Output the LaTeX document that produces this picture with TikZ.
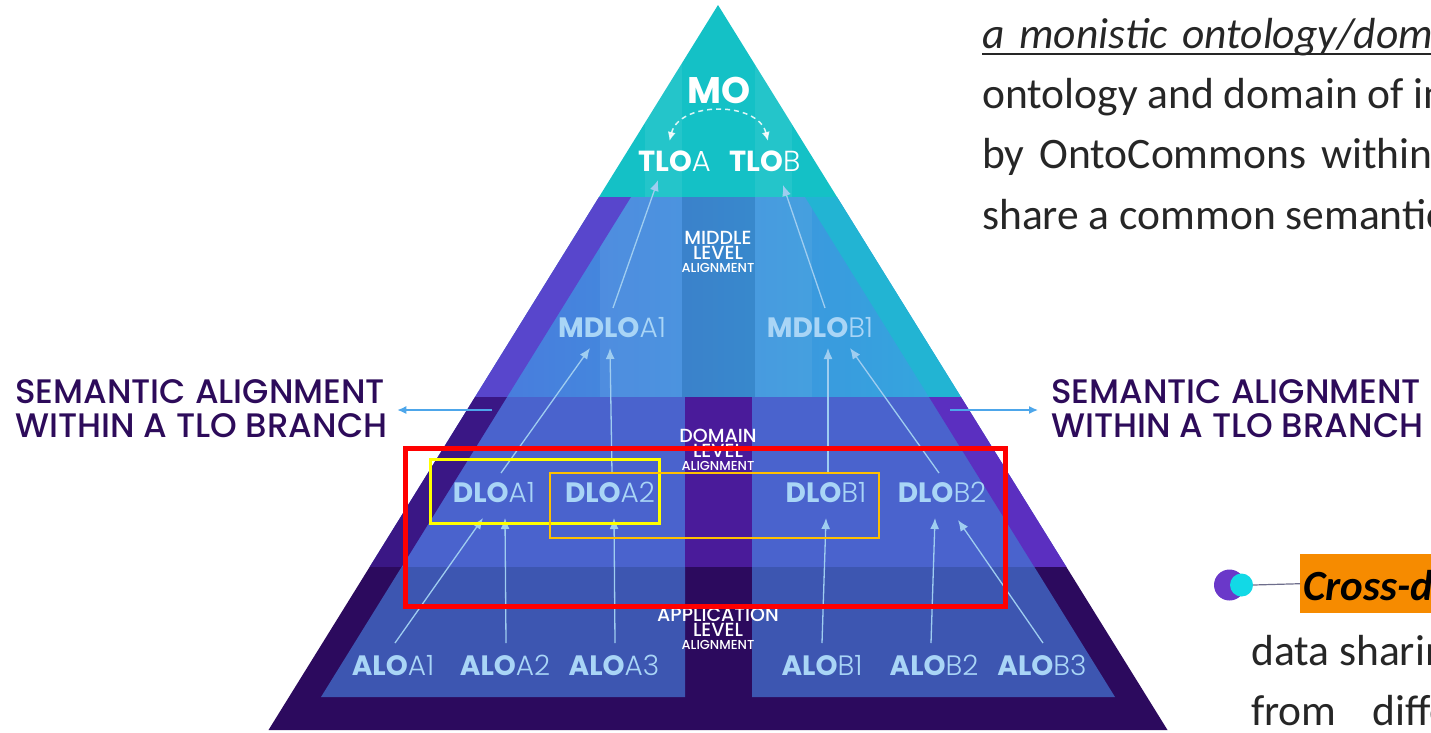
\documentclass[tikz,border=0pt]{standalone}
\usepackage{fontspec}
\setmainfont{Carlito}
\newfontfamily\pop{Poppins}
\newfontfamily\popl{Poppins Light}
\newfontfamily\popm{Poppins Medium}
\usetikzlibrary{arrows.meta}

\definecolor{tealtop}{HTML}{14C1C6}
\definecolor{midl}{HTML}{4A7ADD}
\definecolor{midr}{HTML}{33A8DE}
\definecolor{midstripL}{HTML}{5846CC}
\definecolor{midstripR}{HTML}{22B4D3}
\definecolor{dominner}{HTML}{4A63CD}
\definecolor{domstripL}{HTML}{3A1785}
\definecolor{domstripR}{HTML}{5B2FC0}
\definecolor{domcol}{HTML}{4A1B9A}
\definecolor{appframe}{HTML}{2C0A5E}
\definecolor{apppanel}{HTML}{3D56B1}
\definecolor{lbl}{HTML}{A9D5F6}
\definecolor{arrc}{HTML}{9FCDF0}
\definecolor{semc}{HTML}{2D0B5A}
\definecolor{semarrow}{HTML}{4DA6EA}
\definecolor{bodytext}{HTML}{262626}
\definecolor{hlorange}{HTML}{F68B00}
\definecolor{iconpurple}{HTML}{6A38C9}
\definecolor{iconcyan}{HTML}{12D9E6}
\definecolor{iconline}{HTML}{6E6E8C}
\definecolor{boxred}{HTML}{FF0000}
\definecolor{boxyellow}{HTML}{FFFF00}
\definecolor{boxorange}{HTML}{FFC000}

% bold prefix + light suffix, e.g. DLO + A1
\newcommand\ontolabel[2]{{\bfseries #1}{\popl #2}}

\tikzset{
  onto/.style={anchor=base, inner sep=0pt, text=lbl, font=\pop\fontsize{28}{28}\selectfont},
  toplbl/.style={anchor=base, inner sep=0pt, text=white, font=\pop\fontsize{29}{29}\selectfont},
  lvl/.style={anchor=center, inner sep=0pt, text=white, align=center, font=\popm\fontsize{19}{14.5}\selectfont},
  up/.style={draw=arrc, line width=1.3pt, -{Latex[length=11pt,width=9pt]}},
  semlbl/.style={anchor=base west, inner sep=0pt, text=semc, font=\popm\fontsize{34}{34}\selectfont},
  semarr/.style={draw=semarrow, line width=1.4pt, -{Latex[length=9pt,width=8pt]}},
  para/.style={anchor=base west, inner sep=0pt, text=bodytext, font=\fontsize{43.5}{44}\selectfont},
}
\newcommand\smallalign{{\fontsize{13}{13}\selectfont ALIGNMENT}}

\begin{document}
\begin{tikzpicture}[x=1pt, y=-1pt]
\useasboundingbox (0,0) rectangle (1431,732);
\clip (0,0) rectangle (1431,732);

% ---------- pyramid: top level ----------
\fill[tealtop] (718,5) -- (599,197) -- (837,197) -- cycle;
\begin{scope}
  \clip (718,5) -- (599,197) -- (837,197) -- cycle;
  \fill[white, opacity=0.07] (645,0) rectangle (682,197);
  \fill[white, opacity=0.07] (755,0) rectangle (792,197);
\end{scope}

% ---------- middle level ----------
\shade[left color=midl, right color=midr] (599,197) -- (837,197) -- (961,397) -- (475,397) -- cycle;
\begin{scope}
  \clip (599,197) -- (837,197) -- (961,397) -- (475,397) -- cycle;
  \fill[white, opacity=0.06] (600,197) rectangle (682,397);
  \fill[black, opacity=0.08] (682,197) rectangle (755,397);
  \fill[white, opacity=0.06] (755,197) rectangle (812,397);
\end{scope}
\fill[midstripL] (599,197) -- (631,197) -- (507,397) -- (475,397) -- cycle;
\fill[midstripR] (805,197) -- (837,197) -- (961,397) -- (929,397) -- cycle;

% ---------- domain level ----------
\fill[dominner] (475,397) -- (961,397) -- (1066.4,567) -- (369.6,567) -- cycle;
\fill[domcol] (685,397) rectangle (752,567);
\fill[domstripL] (475,397) -- (507,397) -- (401.6,567) -- (369.6,567) -- cycle;
\fill[domstripR] (929,397) -- (961,397) -- (1066.4,567) -- (1034.4,567) -- cycle;

% ---------- application level ----------
\fill[appframe] (369.6,567) -- (1066.4,567) -- (1167.5,730) -- (268.5,730) -- cycle;
\fill[apppanel] (401.6,567) -- (685,567) -- (685,697) -- (321,697) -- cycle;
\fill[apppanel] (752,567) -- (1034.4,567) -- (1115,697) -- (752,697) -- cycle;

% ---------- labels ----------
\node[toplbl, font=\pop\bfseries\fontsize{37}{37}\selectfont] (MO) at (719,103) {MO};
\node[toplbl] (TLOA) at (674.5,171) {\ontolabel{TLO}{A}};
\node[toplbl] (TLOB) at (765,171) {\ontolabel{TLO}{B}};

\node[lvl] (midlvl) at (718,252) {MIDDLE\\LEVEL\\[-1pt]\smallalign};
\node[lvl] (domlvl) at (718,450) {DOMAIN\\LEVEL\\[-1pt]\smallalign};
\node[lvl] (applvl) at (718,629) {APPLICATION\\LEVEL\\[-1pt]\smallalign};

\node[onto] (MDLOA1) at (612,337) {\ontolabel{MDLO}{A1}};
\node[onto] (MDLOB1) at (820,337) {\ontolabel{MDLO}{B1}};
\node[onto] (DLOA1) at (494,502) {\ontolabel{DLO}{A1}};
\node[onto] (DLOA2) at (610,502) {\ontolabel{DLO}{A2}};
\node[onto] (DLOB1) at (826,502) {\ontolabel{DLO}{B1}};
\node[onto] (DLOB2) at (942,502) {\ontolabel{DLO}{B2}};
\node[onto] (ALOA1) at (393,675) {\ontolabel{ALO}{A1}};
\node[onto] (ALOA2) at (505,675) {\ontolabel{ALO}{A2}};
\node[onto] (ALOA3) at (614,675) {\ontolabel{ALO}{A3}};
\node[onto] (ALOB1) at (822,675) {\ontolabel{ALO}{B1}};
\node[onto] (ALOB2) at (934,675) {\ontolabel{ALO}{B2}};
\node[onto] (ALOB3) at (1042,675) {\ontolabel{ALO}{B3}};

% ---------- alignment arrows ----------
\draw[up] ([shift={(2,-32)}]ALOA1.base) -- ([shift={(-11,16)}]DLOA1.base);
\draw[up] ([shift={(1,-32)}]ALOA2.base) -- ([shift={(11,16)}]DLOA1.base);
\draw[up] ([shift={(1,-32)}]ALOA3.base) -- ([shift={(4,16)}]DLOA2.base);
\draw[up] ([shift={(0,-32)}]ALOB1.base) -- ([shift={(0,16)}]DLOB1.base);
\draw[up] ([shift={(-3,-32)}]ALOB2.base) -- ([shift={(-7,16)}]DLOB2.base);
\draw[up] ([shift={(1,-32)}]ALOB3.base) -- ([shift={(16,18)}]DLOB2.base);
\draw[up] ([shift={(7,-29)}]DLOA1.base) -- ([shift={(-22,11)}]MDLOA1.base);
\draw[up] ([shift={(2,-29)}]DLOA2.base) -- ([shift={(-2,11)}]MDLOA1.base);
\draw[up] ([shift={(2,-29)}]DLOB1.base) -- ([shift={(8,11)}]MDLOB1.base);
\draw[up] ([shift={(-3,-29)}]DLOB2.base) -- ([shift={(30,11)}]MDLOB1.base);
\draw[up] ([shift={(1,-29)}]MDLOA1.base) -- ([shift={(-16.5,9)}]TLOA.base);
\draw[up] ([shift={(5,-29)}]MDLOB1.base) -- ([shift={(18,14)}]TLOB.base);

% dashed link between the two top-level ontologies
\draw[white, opacity=0.85, line width=1.5pt, dash pattern=on 5pt off 4pt,
      {Latex[length=9pt,width=8pt]}-{Latex[length=9pt,width=8pt]}]
  ([shift={(-5,-30)}]TLOA.base) .. controls +(10,-40) and +(-10,-40) .. ([shift={(3,-30)}]TLOB.base);

% ---------- side captions ----------
\node[semlbl] (semL1) at (15,403) {SEMANTIC ALIGNMENT};
\node[semlbl] (semL2) at (15,437) {WITHIN A TLO BRANCH};
\node[semlbl] (semR1) at (1051,403) {SEMANTIC ALIGNMENT};
\node[semlbl] (semR2) at (1051,437) {WITHIN A TLO BRANCH};
\coordinate (semLstart) at (492,410);
\coordinate (semRstart) at (950,410);
\draw[semarr, shorten >=12pt] (semLstart) -- (semLstart -| semL1.east);
\draw[semarr, shorten >=13pt] (semRstart) -- (semRstart -| semR1.west);

% ---------- body text ----------
\node[para, font=\itshape\fontsize{43.5}{44}\selectfont] (p1) at (982,48) {a\hspace{15pt}monistic\hspace{15pt}ontology/domain};
\draw[bodytext, line width=2.2pt] ([shift={(0,6)}]p1.base west) -- ([shift={(0,6)}]p1.base east);
\node[para] (p2) at (982,108) {ontology and domain of interest};
\node[para] (p3) at (982,168) {by\hspace{15pt}OntoCommons\hspace{15pt}within};
\node[para] (p4) at (982,229) {share a common semantic};

\node[circle, fill=iconpurple, minimum size=31pt, inner sep=0pt] (iconP) at (1229.5,585) {};
\node[circle, fill=iconcyan, minimum size=23pt, inner sep=0pt] (iconC) at (1241.5,585) {};
\node[fill=hlorange, anchor=north west, inner xsep=3pt, inner ysep=0pt, text height=46pt, text depth=13pt,
      font=\bfseries\itshape\fontsize{43}{43}\selectfont] (cross) at (1300,554) {Cross-domain};
\draw[iconline, line width=1.2pt] (iconC.east) -- (cross.west);
\node[para] (d1) at (1251,665) {data sharing};
\node[para] (d2) at (1251,725) {from\hspace{36pt}different};

% ---------- highlight frames ----------
\draw[boxred, line width=5pt] (405.5,448.5) rectangle (1005.5,606.5);
\draw[boxyellow, line width=3pt] (430,459) rectangle (659,523);
\draw[boxorange, line width=2.5pt] (550,473) rectangle (879,538);
\end{tikzpicture}
\end{document}
